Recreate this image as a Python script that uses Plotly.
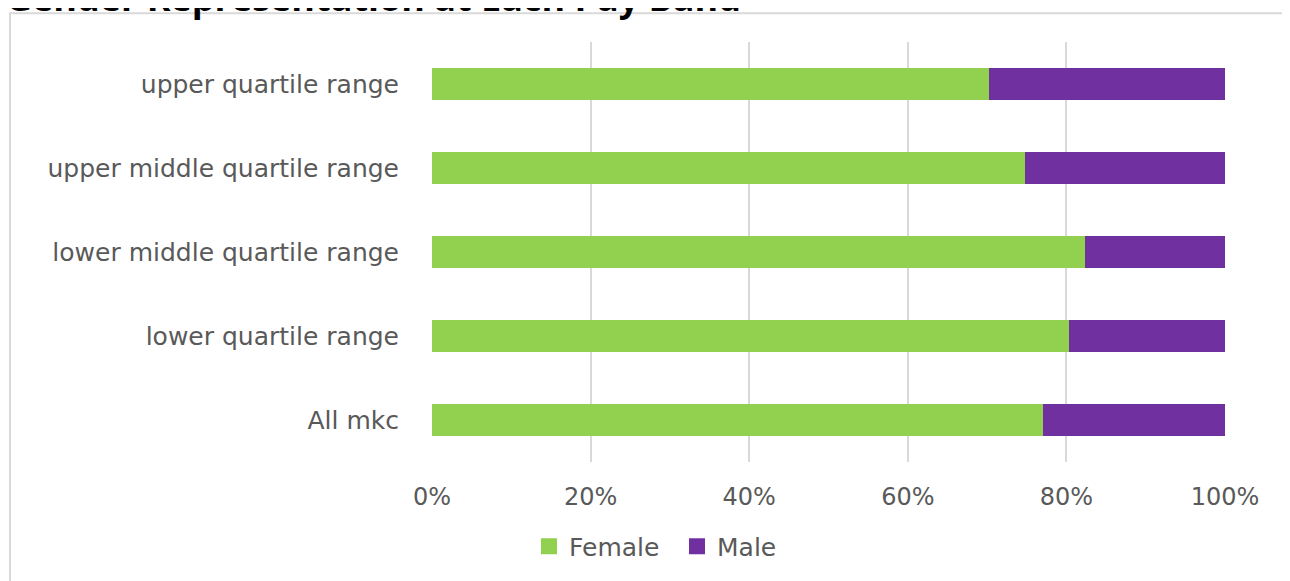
import plotly.graph_objects as go

categories = ["All mkc", "lower quartile range", "lower middle quartile range",
              "upper middle quartile range", "upper quartile range"]
female = [0.770, 0.803, 0.824, 0.748, 0.703]
male = [1 - f for f in female]
tick_vals = [0, 0.2, 0.4, 0.6, 0.8, 1.0]
tick_text = ["0%", "20%", "40%", "60%", "80%", "100%"]
series_names = ["Female", "Male"]
series_colors = ["#92D050", "#7030A0"]
title = "Gender Representation at Each Pay Band"

OFF = 8  # page body margin
W, H = 1290 - OFF, 581 - OFF
L, R, T, B = 432 - OFF, 65, 42 - OFF, 116
pw, ph = W - L - R, H - T - B


def px(xp):  # page x -> paper
    return (xp - OFF - L) / pw


def py(yp):  # page y -> paper
    return 1 - (yp - OFF - T) / ph


fig = go.Figure()
for name, vals, col in zip(series_names, [female, male], series_colors):
    fig.add_trace(go.Bar(y=categories, x=vals, orientation="h", name=name,
                         marker=dict(color=col, line=dict(width=0)),
                         showlegend=False, legendgroup=name))
for name, col in zip(series_names, series_colors):
    fig.add_trace(go.Scatter(x=[None], y=[None], mode="markers", name=name,
                             marker=dict(symbol="square", size=16, color=col),
                             legendgroup=name))

font = "DejaVu Sans, sans-serif"
fig.update_layout(
    width=W, height=H, barmode="stack", bargap=0.61,
    margin=dict(l=L, r=R, t=T, b=B),
    plot_bgcolor="white", paper_bgcolor="white",
    font=dict(family=font, color="#595959", size=22),
    xaxis=dict(range=[0, 1], tickvals=tick_vals, ticktext=tick_text,
               showgrid=True, gridcolor="#d9d9d9", gridwidth=2,
               zeroline=False, ticks="outside", ticklen=13, tickcolor="rgba(0,0,0,0)",
               tickfont=dict(size=24, color="#595959")),
    yaxis=dict(showgrid=False, zeroline=False, ticks="outside", ticklen=27,
               tickcolor="rgba(0,0,0,0)", tickfont=dict(size=25, color="#595959")),
    legend=dict(orientation="h", x=px(529), xanchor="left",
                y=py(550), yanchor="middle", itemwidth=30, entrywidth=103,
                font=dict(size=25, color="#595959"), traceorder="normal"),
    showlegend=True,
)
# chart border
fig.add_shape(type="rect", xref="paper", yref="paper",
              x0=px(10), x1=px(1310),
              y0=py(620), y1=py(13),
              line=dict(color="#d9d9d9", width=2), layer="below")
fig.add_annotation(text="<b>" + title + "</b>", xref="paper", yref="paper",
                   x=px(4), xanchor="left",
                   y=py(24), yanchor="bottom", showarrow=False,
                   font=dict(size=36, color="#000000", family="Open Sans, sans-serif"))
fig.write_html("out.html")
